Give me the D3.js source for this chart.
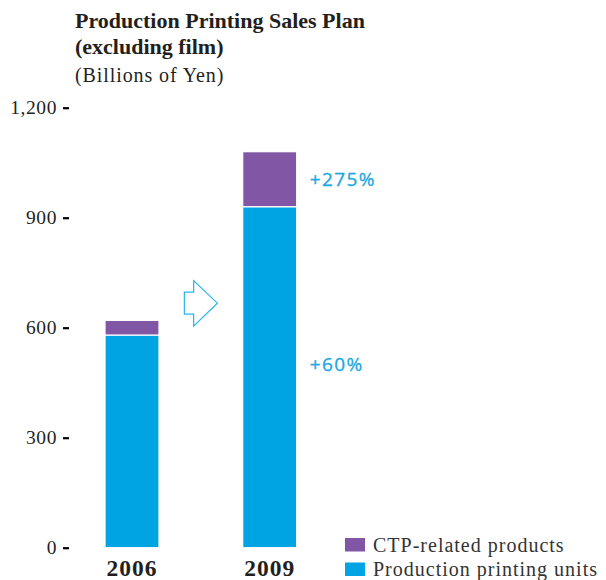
<!DOCTYPE html>
<html>
<head>
<meta charset="utf-8">
<script src="https://cdn.jsdelivr.net/npm/d3@7"></script>
<style>
  body { margin: 0; background: #fff; }
  svg text { font-family: "Liberation Serif", "DejaVu Serif", serif; fill: #231f20; }
  .pct { font-family: "Open Sans", "Noto Sans", sans-serif; fill: #1aa7e2; letter-spacing: 1.4px; }
</style>
</head>
<body>
<div id="chart"></div>
<script>
// values (billions of yen)
var years = ["2006", "2009"];
var units = [580, 930];
var ctp = [40, 150];
var yTicks = [0, 300, 600, 900, 1200];
var seriesNames = ["CTP-related products", "Production printing units"];
var seriesColors = ["#8157a5", "#00a4e2"];
var growthLabels = ["+275%", "+60%"];
var growthAt = [987, 483];

var W = 606, H = 580;
var svg = d3.select("#chart").append("svg")
  .attr("width", W)
  .attr("height", H);

var x = d3.scaleBand()
  .domain(years)
  .range([63.7, 338])
  .paddingInner(0.608)
  .paddingOuter(0.3);

var y = d3.scaleLinear()
  .domain([0, 1200])
  .range([547.7, 107.7]);

// title
svg.append("text")
  .attr("x", 75).attr("y", 28)
  .style("font-size", "22px").style("font-weight", "bold")
  .text("Production Printing Sales Plan");
svg.append("text")
  .attr("x", 75).attr("y", 54)
  .style("font-size", "22px").style("font-weight", "bold")
  .text("(excluding film)");
svg.append("text")
  .attr("x", 75).attr("y", 82)
  .style("font-size", "20px").style("letter-spacing", "0.9px")
  .text("(Billions of Yen)");

// y axis, ticks only
var yAxis = svg.append("g")
  .attr("transform", "translate(69,0)")
  .call(d3.axisLeft(y).tickValues(yTicks).tickSize(6).tickPadding(6)
    .tickFormat(d3.format(",")));
yAxis.select(".domain").remove();
yAxis.selectAll(".tick line").attr("stroke", "#000").attr("stroke-width", 2.2);
yAxis.selectAll(".tick text")
  .attr("fill", "#231f20")
  .style("font-family", "'Liberation Serif', serif")
  .style("font-size", "19.5px")
  .style("letter-spacing", "0.6px");

// stacked bars
var rows = years.map(function(yr, i) {
  return {year: yr, units: units[i], ctp: ctp[i]};
});
var stack = d3.stack().keys(["units", "ctp"])(rows);
var color = {units: seriesColors[1], ctp: seriesColors[0]};

svg.append("g").selectAll("g")
  .data(stack)
  .join("g")
  .attr("fill", function(s) { return color[s.key]; })
  .selectAll("rect")
  .data(function(s) { return s; })
  .join("rect")
  .attr("x", function(d) { return x(d.data.year); })
  .attr("y", function(d) { return y(d[1]); })
  .attr("width", x.bandwidth())
  .attr("height", function(d) { return y(d[0]) - y(d[1]); })
  .attr("stroke", "#fff")
  .attr("stroke-width", 1.2);

// year labels
svg.append("g").selectAll("text")
  .data(years)
  .join("text")
  .attr("x", function(d) { return x(d) + x.bandwidth() / 2; })
  .attr("y", 576)
  .attr("text-anchor", "middle")
  .style("font-size", "23.5px").style("font-weight", "bold")
  .style("letter-spacing", "1px")
  .text(function(d) { return d; });

// growth labels next to 2009 bar
svg.append("g").selectAll("text")
  .data(growthLabels)
  .join("text")
  .attr("class", "pct")
  .attr("x", x("2009") + x.bandwidth() + 13)
  .attr("y", function(d, i) { return y(growthAt[i]); })
  .style("font-size", "19px")
  .style("stroke", "#1aa7e2").style("stroke-width", 0.3)
  .text(function(d) { return d; });

// hollow arrow between the bars
var ax = (x("2006") + x.bandwidth() + x("2009")) / 2;
var ay = y(667);
svg.append("path")
  .attr("d", "M" + (ax - 16.5) + "," + (ay - 11) +
    "h9.3v-11.5l23.7,22.5l-23.7,23l0,-12h-9.3z")
  .attr("fill", "none")
  .attr("stroke", "#29b5ea")
  .attr("stroke-width", 1.2);

// legend
var lg = svg.append("g").attr("transform", "translate(345,538)");
var item = lg.selectAll("g")
  .data(seriesNames)
  .join("g")
  .attr("transform", function(d, i) { return "translate(0," + (i * 24.5) + ")"; });
item.append("rect")
  .attr("width", 20).attr("height", 13.5)
  .attr("fill", function(d, i) { return seriesColors[i]; });
item.append("text")
  .attr("x", 28).attr("y", 13.5)
  .style("font-size", "20px")
  .style("letter-spacing", "1px")
  .style("fill", "#333")
  .text(function(d) { return d; });
</script>
</body>
</html>
